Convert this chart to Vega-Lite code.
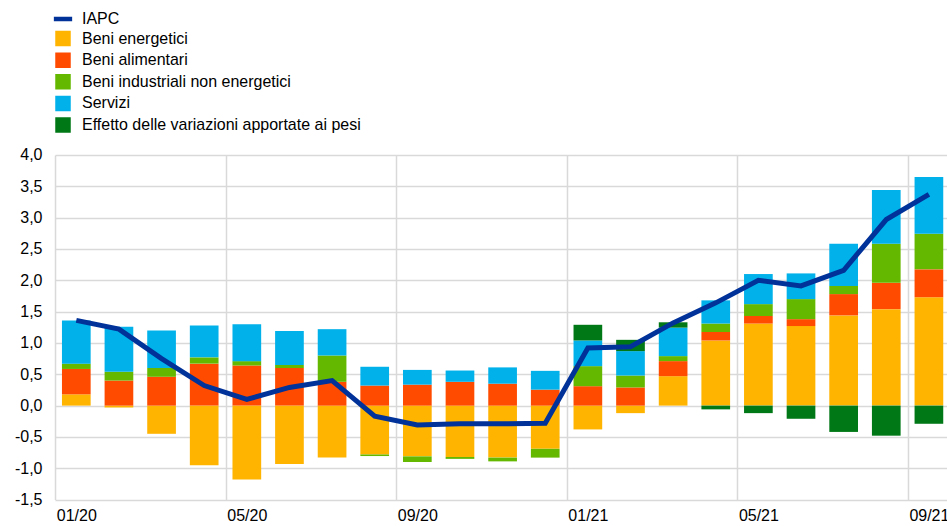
{
  "$schema": "https://vega.github.io/schema/vega-lite/v6.json",
  "width": 892,
  "height": 344.6,
  "autosize": {"type": "none"},
  "padding": {"left": 55, "top": 155, "right": 0, "bottom": 26},
  "background": "white",
  "config": {
    "view": {"stroke": null},
    "font": "Liberation Sans",
    "axis": {
      "labelFont": "Liberation Sans",
      "labelFontSize": 16,
      "labelColor": "#000000",
      "ticks": false,
      "domain": false,
      "grid": true,
      "gridColor": "#d9d9d9",
      "gridWidth": 1.5,
      "labelOverlap": false,
      "title": null
    },
    "legend": {
      "labelFont": "Liberation Sans",
      "labelFontSize": 16,
      "labelColor": "#000000",
      "labelLimit": 0,
      "padding": 0
    }
  },
  "data": {
    "values": [
      {"m": "01/20", "IAPC": 1.36, "Beni energetici": 0.18, "Beni alimentari": 0.405, "Beni industriali non energetici": 0.085, "Servizi": 0.69, "Effetto delle variazioni apportate ai pesi": 0},
      {"m": "02/20", "IAPC": 1.22, "Beni energetici": -0.03, "Beni alimentari": 0.40, "Beni industriali non energetici": 0.14, "Servizi": 0.72, "Effetto delle variazioni apportate ai pesi": 0},
      {"m": "03/20", "IAPC": 0.75, "Beni energetici": -0.45, "Beni alimentari": 0.46, "Beni industriali non energetici": 0.14, "Servizi": 0.60, "Effetto delle variazioni apportate ai pesi": 0},
      {"m": "04/20", "IAPC": 0.32, "Beni energetici": -0.95, "Beni alimentari": 0.67, "Beni industriali non energetici": 0.10, "Servizi": 0.51, "Effetto delle variazioni apportate ai pesi": 0},
      {"m": "05/20", "IAPC": 0.10, "Beni energetici": -1.18, "Beni alimentari": 0.64, "Beni industriali non energetici": 0.07, "Servizi": 0.59, "Effetto delle variazioni apportate ai pesi": 0},
      {"m": "06/20", "IAPC": 0.29, "Beni energetici": -0.93, "Beni alimentari": 0.60, "Beni industriali non energetici": 0.05, "Servizi": 0.54, "Effetto delle variazioni apportate ai pesi": 0},
      {"m": "07/20", "IAPC": 0.40, "Beni energetici": -0.83, "Beni alimentari": 0.38, "Beni industriali non energetici": 0.42, "Servizi": 0.42, "Effetto delle variazioni apportate ai pesi": 0},
      {"m": "08/20", "IAPC": -0.17, "Beni energetici": -0.78, "Beni alimentari": 0.32, "Beni industriali non energetici": -0.025, "Servizi": 0.30, "Effetto delle variazioni apportate ai pesi": 0},
      {"m": "09/20", "IAPC": -0.31, "Beni energetici": -0.81, "Beni alimentari": 0.335, "Beni industriali non energetici": -0.09, "Servizi": 0.235, "Effetto delle variazioni apportate ai pesi": 0},
      {"m": "10/20", "IAPC": -0.29, "Beni energetici": -0.82, "Beni alimentari": 0.38, "Beni industriali non energetici": -0.03, "Servizi": 0.18, "Effetto delle variazioni apportate ai pesi": 0},
      {"m": "11/20", "IAPC": -0.29, "Beni energetici": -0.83, "Beni alimentari": 0.35, "Beni industriali non energetici": -0.06, "Servizi": 0.26, "Effetto delle variazioni apportate ai pesi": 0},
      {"m": "12/20", "IAPC": -0.28, "Beni energetici": -0.69, "Beni alimentari": 0.255, "Beni industriali non energetici": -0.14, "Servizi": 0.30, "Effetto delle variazioni apportate ai pesi": 0},
      {"m": "01/21", "IAPC": 0.92, "Beni energetici": -0.38, "Beni alimentari": 0.31, "Beni industriali non energetici": 0.32, "Servizi": 0.41, "Effetto delle variazioni apportate ai pesi": 0.25},
      {"m": "02/21", "IAPC": 0.94, "Beni energetici": -0.12, "Beni alimentari": 0.29, "Beni industriali non energetici": 0.19, "Servizi": 0.39, "Effetto delle variazioni apportate ai pesi": 0.18},
      {"m": "03/21", "IAPC": 1.32, "Beni energetici": 0.47, "Beni alimentari": 0.24, "Beni industriali non energetici": 0.08, "Servizi": 0.455, "Effetto delle variazioni apportate ai pesi": 0.085},
      {"m": "04/21", "IAPC": 1.64, "Beni energetici": 1.04, "Beni alimentari": 0.135, "Beni industriali non energetici": 0.135, "Servizi": 0.37, "Effetto delle variazioni apportate ai pesi": -0.06},
      {"m": "05/21", "IAPC": 2.0, "Beni energetici": 1.31, "Beni alimentari": 0.12, "Beni industriali non energetici": 0.19, "Servizi": 0.48, "Effetto delle variazioni apportate ai pesi": -0.12},
      {"m": "06/21", "IAPC": 1.91, "Beni energetici": 1.27, "Beni alimentari": 0.11, "Beni industriali non energetici": 0.32, "Servizi": 0.41, "Effetto delle variazioni apportate ai pesi": -0.21},
      {"m": "07/21", "IAPC": 2.16, "Beni energetici": 1.44, "Beni alimentari": 0.34, "Beni industriali non energetici": 0.13, "Servizi": 0.675, "Effetto delle variazioni apportate ai pesi": -0.42},
      {"m": "08/21", "IAPC": 2.97, "Beni energetici": 1.54, "Beni alimentari": 0.42, "Beni industriali non energetici": 0.625, "Servizi": 0.855, "Effetto delle variazioni apportate ai pesi": -0.48},
      {"m": "09/21", "IAPC": 3.37, "Beni energetici": 1.73, "Beni alimentari": 0.445, "Beni industriali non energetici": 0.57, "Servizi": 0.905, "Effetto delle variazioni apportate ai pesi": -0.29}
    ]
  },
  "layer": [
    {
      "transform": [
        {"fold": ["Beni energetici", "Beni alimentari", "Beni industriali non energetici", "Servizi", "Effetto delle variazioni apportate ai pesi"], "as": ["s", "v"]},
        {"calculate": "indexof(['Beni energetici', 'Beni alimentari', 'Beni industriali non energetici', 'Servizi', 'Effetto delle variazioni apportate ai pesi'], datum.s)", "as": "o"}
      ],
      "mark": {"type": "bar"},
      "encoding": {
        "x": {
          "field": "m", "type": "ordinal", "sort": null,
          "scale": {"paddingInner": 0.327, "paddingOuter": 0.1255, "align": 0.65},
          "axis": {
            "values": ["01/20", "05/20", "09/20", "01/21", "05/21", "09/21"],
            "labelAngle": 0,
            "labelPadding": 8,
            "tickOffset": -21.3,
            "labelOffset": 21.3
          }
        },
        "y": {
          "field": "v", "type": "quantitative", "stack": "zero",
          "scale": {"domain": [-1.5, 4], "nice": false, "zero": false},
          "axis": {
            "values": [-1.5, -1, -0.5, 0, 0.5, 1, 1.5, 2, 2.5, 3, 3.5, 4],
            "tickCount": 20,
            "labelExpr": "(datum.value < 0 ? '-' : '') + replace(format(abs(datum.value), '.1f'), '.', ',')",
            "labelPadding": 13
          }
        },
        "order": {"field": "o", "type": "quantitative", "sort": "ascending"},
        "color": {
          "field": "s", "type": "nominal",
          "scale": {
            "domain": ["IAPC", "Beni energetici", "Beni alimentari", "Beni industriali non energetici", "Servizi", "Effetto delle variazioni apportate ai pesi"],
            "range": ["#003299", "#FFB400", "#FF4B00", "#65B800", "#00B1EA", "#007816"]
          },
          "legend": {
            "title": null,
            "orient": "none",
            "legendX": 0,
            "legendY": -144,
            "symbolType": "square",
            "symbolSize": 196,
            "labelOffset": 11,
            "rowPadding": 1.6,
            "encode": {
              "symbols": {
                "update": {
                  "shape": [{"test": "datum.value === 'IAPC'", "value": "M-1.2,-0.22H1.2V0.22H-1.2Z"}, {"value": "square"}],
                  "fill": {"scale": "color", "field": "value"},
                  "stroke": {"value": "transparent"},
                  "opacity": {"value": 1}
                }
              }
            }
          }
        }
      }
    },
    {
      "transform": [
        {"fold": ["IAPC"], "as": ["s", "v"]}
      ],
      "mark": {"type": "line", "strokeWidth": 5},
      "encoding": {
        "x": {"field": "m", "type": "ordinal", "sort": null},
        "y": {"field": "v", "type": "quantitative"},
        "color": {"field": "s", "type": "nominal"}
      }
    }
  ]
}
